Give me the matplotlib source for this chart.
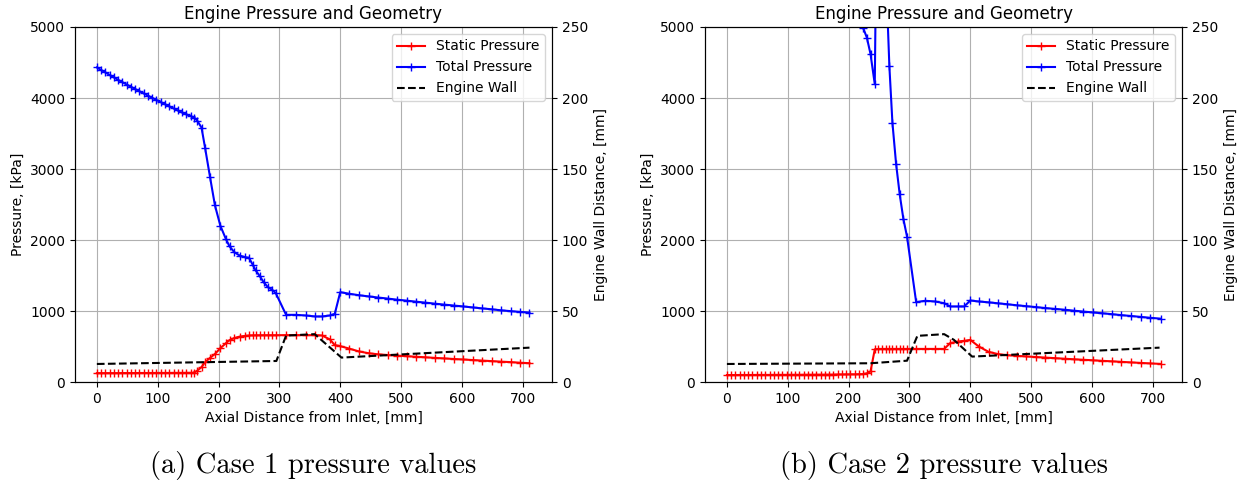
import numpy as np
import matplotlib.pyplot as plt

# ---- case 1 ----
x_c1 = [0, 7, 14, 21, 28, 35, 42, 49, 56, 63, 70, 77, 84, 91, 98, 105, 112, 119,
        126, 133, 140, 147, 154, 160, 165, 172, 178, 186, 194, 203, 212, 218, 226,
        235, 244, 250, 256, 261, 268, 274, 281, 288, 294, 311, 327, 343, 359, 370,
        383, 391, 400, 415, 431, 447, 462, 478, 493, 509, 524, 540, 555, 571, 587,
        602, 618, 633, 649, 664, 680, 695, 711]
p_static_c1 = [125, 125, 125, 125, 125, 125, 126, 126, 126, 126, 127, 127, 127, 127,
               128, 128, 128, 128, 129, 129, 129, 130, 130, 132, 160, 210, 280, 340,
               395, 476, 546, 590, 620, 640, 650, 655, 657, 658, 658, 659, 659, 659,
               659, 660, 660, 660, 660, 655, 600, 520, 505, 470, 430, 405, 390, 380,
               372, 364, 356, 348, 340, 332, 324, 317, 309, 302, 294, 287, 280, 272, 265]
p_total_c1 = [4430, 4395, 4360, 4325, 4290, 4255, 4222, 4190, 4158, 4126, 4095, 4064,
              4033, 4002, 3972, 3942, 3912, 3882, 3853, 3824, 3796, 3770, 3745, 3725,
              3680, 3583, 3291, 2886, 2490, 2200, 2015, 1911, 1827, 1780, 1757, 1750,
              1653, 1572, 1488, 1407, 1337, 1299, 1252, 946, 946, 937, 923, 923, 937,
              960, 1265, 1243, 1222, 1205, 1190, 1175, 1160, 1146, 1132, 1118, 1104,
              1090, 1077, 1064, 1050, 1037, 1024, 1010, 998, 988, 978]
x_wall_c1 = [0, 295, 311, 358, 402, 711]
wall_c1 = [12.7, 14.8, 32.7, 33.7, 17.2, 24.2]

# ---- case 2 ----
x_c2 = [0, 7, 14, 21, 28, 35, 42, 49, 56, 63, 70, 77, 84, 91, 98, 105, 112, 119,
        126, 133, 140, 147, 154, 161, 168, 175, 182, 189, 196, 203, 210, 217, 224,
        230, 236, 243, 249, 255, 262, 267, 272, 278, 284, 290, 296, 311, 326, 342,
        357, 367, 379, 390, 400, 414, 430, 446, 461, 477, 492, 508, 523, 539, 555,
        570, 586, 601, 617, 633, 648, 664, 680, 695, 713]
p_static_c2 = [98, 98, 98, 99, 99, 99, 99, 100, 100, 100, 100, 101, 101, 101, 101, 102,
               102, 102, 103, 103, 103, 104, 104, 104, 105, 105, 106, 106, 107, 108,
               108, 110, 112, 122, 148, 460, 466, 466, 466, 466, 466, 466, 466, 466,
               466, 466, 466, 466, 466, 548, 570, 580, 593, 500, 425, 392, 378, 368,
               360, 352, 344, 336, 328, 320, 313, 306, 298, 291, 284, 276, 269, 262, 255]
p_total_c2 = [7400, 7340, 7270, 7200, 7130, 7060, 6990, 6920, 6850, 6780, 6700, 6620,
              6540, 6460, 6380, 6300, 6220, 6140, 6060, 5980, 5900, 5820, 5740, 5660,
              5580, 5500, 5420, 5340, 5260, 5190, 5130, 5080, 4985, 4850, 4620, 4195,
              9000, 8000, 5600, 4445, 3652, 3074, 2641, 2297, 2048, 1126, 1144, 1134,
              1110, 1064, 1064, 1064, 1148, 1134, 1122, 1108, 1095, 1080, 1068, 1055,
              1042, 1030, 1018, 1005, 992, 980, 968, 955, 942, 930, 917, 905, 892]
x_wall_c2 = [0, 236, 296, 313, 357, 373, 403, 711]
wall_c2 = [12.7, 13.2, 15.0, 32.5, 33.7, 29.7, 17.9, 24.2]

cases = [
    (x_c1, p_static_c1, p_total_c1, x_wall_c1, wall_c1, '(a) Case 1 pressure values'),
    (x_c2, p_static_c2, p_total_c2, x_wall_c2, wall_c2, '(b) Case 2 pressure values'),
]

fig = plt.figure(figsize=(12.41, 4.83), dpi=100)
lefts = [0.0604, 0.5681]

for left, (x, ps, pt, xw, w, caption) in zip(lefts, cases):
    ax = fig.add_axes([left, 0.2091, 0.3844, 0.735])
    l1, = ax.plot(x, ps, 'r-+', label='Static Pressure')
    l2, = ax.plot(x, pt, 'b-+', label='Total Pressure')
    ax.set_ylim(0, 5000)
    ax.set_xlim(-36, 748)
    ax.set_xticks(np.arange(0, 800, 100))
    ax.set_ylabel('Pressure, [kPa]')
    ax.set_xlabel('Axial Distance from Inlet, [mm]')
    ax.set_title('Engine Pressure and Geometry')
    ax.grid(True)

    ax2 = ax.twinx()
    l3, = ax2.plot(xw, w, 'k--', label='Engine Wall')
    ax2.set_ylim(0, 250)
    ax2.set_ylabel('Engine Wall Distance, [mm]')
    ax2.legend([l1, l2, l3], [l.get_label() for l in (l1, l2, l3)], loc='upper right')

    fig.text(left + 0.3844 / 2, 0.037, caption, ha='center', va='center',
             family='cmr10', fontsize=20.5)

fig.savefig('out.png', dpi=100)
